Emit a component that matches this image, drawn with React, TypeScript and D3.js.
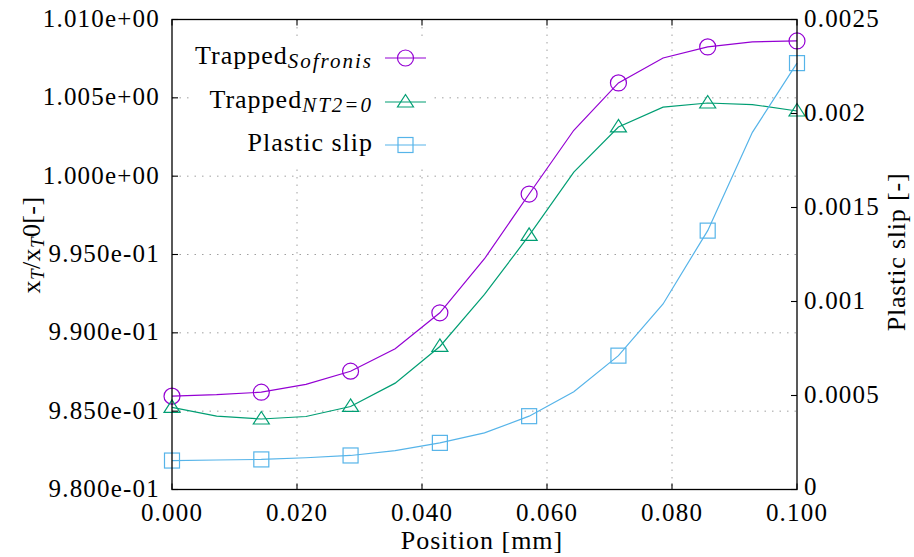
import React from "react";
import * as d3 from "d3";

// ---- data ----
const positions = [0.0, 0.00714, 0.01429, 0.02143, 0.02857, 0.03571, 0.04286, 0.05, 0.05714, 0.06429, 0.07143, 0.07857, 0.08571, 0.09286, 0.1];
const trappedSofronis = [0.98596, 0.98605, 0.98621, 0.98671, 0.98755, 0.98898, 0.99128, 0.99473, 0.99886, 1.00293, 1.00595, 1.00754, 1.00825, 1.00857, 1.00863];
const trappedNT2 = [0.98524, 0.98468, 0.9845, 0.98466, 0.9853, 0.98679, 0.98913, 0.99245, 0.99622, 1.00026, 1.00314, 1.00441, 1.00467, 1.00457, 1.00416];
const plasticSlip = [0.000154, 0.000157, 0.00016, 0.000169, 0.000181, 0.000207, 0.000248, 0.000301, 0.00039, 0.00052, 0.000712, 0.000987, 0.001377, 0.0019, 0.002268];
const markerIdx = [0, 2, 4, 6, 8, 10, 12, 14];

const xTicks = [0, 0.02, 0.04, 0.06, 0.08, 0.1];
const xTickLabels = ["0.000", "0.020", "0.040", "0.060", "0.080", "0.100"];
const yTicks = [0.98, 0.985, 0.99, 0.995, 1.0, 1.005, 1.01];
const yTickLabels = ["9.800e-01", "9.850e-01", "9.900e-01", "9.950e-01", "1.000e+00", "1.005e+00", "1.010e+00"];
const y2Ticks = [0, 0.0005, 0.001, 0.0015, 0.002, 0.0025];
const y2TickLabels = ["0", "0.0005", "0.001", "0.0015", "0.002", "0.0025"];

const PURPLE = "#9400d3";
const GREEN = "#009e73";
const BLUE = "#56b4e9";
const FONT = "Liberation Serif, DejaVu Serif, serif";

const L = 172, R = 797, T = 19.5, B = 489.5;

const x = d3.scaleLinear().domain([0, 0.1]).range([L, R]);
const y = d3.scaleLinear().domain([0.98, 1.01]).range([B, T]);
const y2 = d3.scaleLinear().domain([0, 0.0025]).range([B, T]);

function Circle({ cx, cy, color }: any) {
  return <circle cx={cx} cy={cy} r={8} fill="none" stroke={color} strokeWidth={1.2} />;
}
function Tri({ cx, cy, color }: any) {
  const p = `${cx},${cy - 7.5} ${cx - 8},${cy + 5} ${cx + 8},${cy + 5}`;
  return <polygon points={p} fill="none" stroke={color} strokeWidth={1.2} />;
}
function Sq({ cx, cy, color }: any) {
  return <rect x={cx - 7.5} y={cy - 7.5} width={15} height={15} fill="none" stroke={color} strokeWidth={1.2} />;
}

export default function App() {
  const line1 = d3.line<number>().x((_, i) => x(positions[i])).y((d) => y(d));
  const line2 = d3.line<number>().x((_, i) => x(positions[i])).y((d) => y2(d));

  const rows = [
    { yy: 58, color: PURPLE, main: "Trapped", sub: "Sofronis", M: Circle },
    { yy: 102, color: GREEN, main: "Trapped", sub: "NT2=0", M: Tri },
    { yy: 145, color: BLUE, main: "Plastic slip", sub: "", M: Sq },
  ];

  return (
    <svg width={914} height={557} style={{ position: "absolute", left: 0, top: 0, background: "#fff", fontFamily: FONT }}>
      <rect x={0} y={0} width={914} height={557} fill="#fff" />
      {/* grid */}
      <g stroke="#a0a0a0" strokeWidth={1} strokeDasharray="1.5,6">
        {xTicks.slice(1, -1).map((t) => (
          <line key={"gx" + t} x1={x(t)} x2={x(t)} y1={T} y2={B} />
        ))}
        {yTicks.slice(1, -1).map((t) => (
          <line key={"gy" + t} x1={L} x2={R} y1={y(t)} y2={y(t)} />
        ))}
      </g>
      {/* legend background */}
      <rect x={190} y={36} width={242} height={128} fill="#fff" />
      {/* data lines */}
      <path d={line1(trappedSofronis) || ""} fill="none" stroke={PURPLE} strokeWidth={1.2} />
      <path d={line1(trappedNT2) || ""} fill="none" stroke={GREEN} strokeWidth={1.2} />
      <path d={line2(plasticSlip) || ""} fill="none" stroke={BLUE} strokeWidth={1.2} />
      {markerIdx.map((i) => (
        <g key={"m" + i}>
          <Circle cx={x(positions[i])} cy={y(trappedSofronis[i])} color={PURPLE} />
          <Tri cx={x(positions[i])} cy={y(trappedNT2[i])} color={GREEN} />
          <Sq cx={x(positions[i])} cy={y2(plasticSlip[i])} color={BLUE} />
        </g>
      ))}
      {/* border */}
      <rect x={L} y={T} width={R - L} height={B - T} fill="none" stroke="#000" strokeWidth={1.3} />
      {/* ticks */}
      <g stroke="#000" strokeWidth={1.1}>
        {xTicks.map((t) => (
          <g key={"xt" + t}>
            <line x1={x(t)} x2={x(t)} y1={B} y2={B - 6} />
            <line x1={x(t)} x2={x(t)} y1={T} y2={T + 6} />
          </g>
        ))}
        {yTicks.map((t) => (
          <line key={"yt" + t} x1={L} x2={L + 6} y1={y(t)} y2={y(t)} />
        ))}
        {y2Ticks.map((t) => (
          <line key={"y2t" + t} x1={R} x2={R - 6} y1={y2(t)} y2={y2(t)} />
        ))}
      </g>
      {/* tick labels */}
      <g fontSize={25} fill="#000" letterSpacing={1.2}>
        {xTicks.map((t, i) => (
          <text key={"xl" + t} x={x(t)} y={521} textAnchor="middle">{xTickLabels[i]}</text>
        ))}
        {yTicks.map((t, i) => (
          <text key={"yl" + t} x={160} y={y(t)} dy="0.3em" textAnchor="end">{yTickLabels[i]}</text>
        ))}
        {y2Ticks.map((t, i) => (
          <text key={"y2l" + t} x={804} y={y2(t)} dy={i === 0 ? "0.2em" : "0.3em"} textAnchor="start">{y2TickLabels[i]}</text>
        ))}
      </g>
      {/* axis labels */}
      <text x={482} y={549} fontSize={26} textAnchor="middle" letterSpacing={1}>Position [mm]</text>
      <text transform="translate(40,245) rotate(-90)" fontSize={26} textAnchor="middle" letterSpacing={0.4}>
        x<tspan fontSize={19} fontStyle="italic" dy={4}>T</tspan>
        <tspan dy={-4}>/x</tspan>
        <tspan fontSize={19} fontStyle="italic" dy={4}>T</tspan>
        <tspan dy={-4}>0[-]</tspan>
      </text>
      <text transform="translate(905,252) rotate(-90)" fontSize={26} textAnchor="middle" letterSpacing={0.8}>Plastic slip [-]</text>
      {/* legend */}
      {rows.map((r) => (
        <g key={r.main + r.sub}>
          <text x={373} y={r.yy + 6} fontSize={26} textAnchor="end" letterSpacing={1}>
            {r.main}
            {r.sub ? (
              <tspan fontSize={21} fontStyle="italic" dy={4} letterSpacing={2}>{r.sub}</tspan>
            ) : null}
          </text>
          <line x1={385} x2={426} y1={r.yy} y2={r.yy} stroke={r.color} strokeWidth={1.2} />
          <r.M cx={405.5} cy={r.yy} color={r.color} />
        </g>
      ))}
    </svg>
  );
}
